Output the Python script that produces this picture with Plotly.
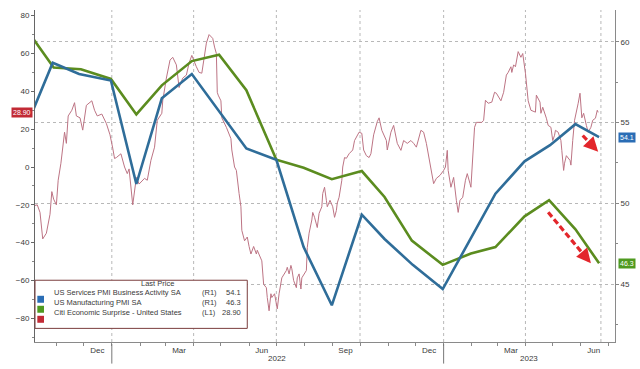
import plotly.graph_objects as go
import pandas as pd

# ---------------- data ----------------
services_dates = ["2021-09-30", "2021-10-28", "2021-11-26", "2021-12-31", "2022-01-28", "2022-02-25",
                  "2022-03-30", "2022-05-29", "2022-07-01", "2022-07-31", "2022-08-31", "2022-10-03",
                  "2022-10-28", "2022-11-28", "2022-12-31", "2023-02-27", "2023-03-31", "2023-04-28",
                  "2023-05-26", "2023-06-21"]
services_vals = [54.9, 58.7, 58.0, 57.6, 51.2, 56.5, 58.0, 53.4, 52.7, 47.3, 43.7, 49.3,
                 47.8, 46.2, 44.7, 50.6, 52.6, 53.6, 54.9, 54.1]

mfg_dates = ["2021-09-30", "2021-10-29", "2021-11-28", "2021-12-31", "2022-01-28", "2022-02-25",
             "2022-03-30", "2022-04-29", "2022-05-29", "2022-07-01", "2022-07-31", "2022-08-31",
             "2022-10-03", "2022-10-28", "2022-11-27", "2022-12-31", "2023-01-31", "2023-02-27",
             "2023-03-31", "2023-04-27", "2023-05-26", "2023-06-21"]
mfg_vals = [60.7, 58.4, 58.3, 57.7, 55.5, 57.3, 58.8, 59.2, 57.0, 52.7, 52.2, 51.5,
            52.0, 50.4, 47.7, 46.2, 46.9, 47.3, 49.2, 50.2, 48.4, 46.3]

citi_dates = [
    "2021-10-08", "2021-10-11", "2021-10-14", "2021-10-17", "2021-10-21", "2021-10-25", "2021-10-27",
    "2021-10-29", "2021-11-01", "2021-11-03", "2021-11-06", "2021-11-08", "2021-11-10", "2021-11-12",
    "2021-11-14", "2021-11-18", "2021-11-21", "2021-11-23", "2021-11-27", "2021-11-30", "2021-12-04",
    "2021-12-10", "2021-12-13", "2021-12-16", "2021-12-21", "2021-12-26", "2021-12-30", "2022-01-02",
    "2022-01-04", "2022-01-06", "2022-01-11", "2022-01-15", "2022-01-18", "2022-01-20", "2022-01-23",
    "2022-01-24", "2022-01-28", "2022-01-31", "2022-02-06", "2022-02-09", "2022-02-13", "2022-02-17",
    "2022-02-20", "2022-02-25", "2022-02-26", "2022-03-02", "2022-03-06", "2022-03-09", "2022-03-13",
    "2022-03-16", "2022-03-20", "2022-03-24", "2022-03-27", "2022-03-30", "2022-04-04", "2022-04-07",
    "2022-04-10", "2022-04-13", "2022-04-15", "2022-04-18", "2022-04-22", "2022-04-24", "2022-04-26",
    "2022-04-27", "2022-04-28", "2022-05-01", "2022-05-02", "2022-05-07", "2022-05-10", "2022-05-12",
    "2022-05-13", "2022-05-16", "2022-05-18", "2022-05-19", "2022-05-21", "2022-05-23", "2022-05-24",
    "2022-05-27", "2022-05-30", "2022-06-01", "2022-06-03", "2022-06-06", "2022-06-09", "2022-06-10",
    "2022-06-14", "2022-06-15", "2022-06-17", "2022-06-20", "2022-06-21", "2022-06-23", "2022-06-25",
    "2022-06-26", "2022-06-29", "2022-07-01", "2022-07-02", "2022-07-04", "2022-07-07", "2022-07-12",
    "2022-07-13", "2022-07-15", "2022-07-17", "2022-07-18", "2022-07-20", "2022-07-23", "2022-07-24",
    "2022-07-26", "2022-07-28", "2022-07-29", "2022-08-01", "2022-08-03", "2022-08-04", "2022-08-06",
    "2022-08-09", "2022-08-10", "2022-08-12", "2022-08-14", "2022-08-15", "2022-08-17", "2022-08-20",
    "2022-08-21", "2022-08-23", "2022-08-25", "2022-08-26", "2022-08-29", "2022-09-01", "2022-09-03",
    "2022-09-05", "2022-09-06", "2022-09-08", "2022-09-11", "2022-09-12", "2022-09-14", "2022-09-16",
    "2022-09-19", "2022-09-23", "2022-09-25", "2022-09-27", "2022-09-30", "2022-10-03", "2022-10-05",
    "2022-10-08", "2022-10-11", "2022-10-13", "2022-10-16", "2022-10-20", "2022-10-22", "2022-10-25",
    "2022-10-30", "2022-10-31", "2022-11-04", "2022-11-07", "2022-11-11", "2022-11-15", "2022-11-18",
    "2022-11-22", "2022-11-26", "2022-11-29", "2022-12-02", "2022-12-07", "2022-12-10", "2022-12-13",
    "2022-12-18", "2022-12-21", "2022-12-24", "2022-12-28", "2023-01-01", "2023-01-03", "2023-01-05",
    "2023-01-06", "2023-01-09", "2023-01-12", "2023-01-15", "2023-01-17", "2023-01-19", "2023-01-22",
    "2023-01-25", "2023-01-27", "2023-01-30", "2023-01-31", "2023-02-04", "2023-02-06", "2023-02-12",
    "2023-02-14", "2023-02-16", "2023-02-19", "2023-02-23", "2023-02-26", "2023-02-28", "2023-03-05",
    "2023-03-08", "2023-03-11", "2023-03-13", "2023-03-16", "2023-03-17", "2023-03-19", "2023-03-21",
    "2023-03-22", "2023-03-24", "2023-03-27", "2023-03-29", "2023-04-01", "2023-04-04", "2023-04-07",
    "2023-04-12", "2023-04-13", "2023-04-17", "2023-04-18", "2023-04-20", "2023-04-24", "2023-04-26",
    "2023-04-29", "2023-05-01", "2023-05-03", "2023-05-04", "2023-05-07", "2023-05-10", "2023-05-11",
    "2023-05-13", "2023-05-14", "2023-05-16", "2023-05-20", "2023-05-21", "2023-05-23", "2023-05-25",
    "2023-05-29", "2023-05-31", "2023-06-02", "2023-06-04", "2023-06-07", "2023-06-09", "2023-06-12",
    "2023-06-14", "2023-06-17", "2023-06-19", "2023-06-20"]
citi_vals = [
    -20.4, -20, -24, -38, -35, -25, -13,
    -17, -20, -7, 2, 10.5, 18.4, 12.5,
    27, 30, 34, 27, 26, 19.5, 32.6,
    35, 30, 27, 28, 23, 17, 10,
    4.5, 5, 7, 0, -3.5, -1, -18.6,
    -20, -5.5, -9, -6, -7, 3.5, 10.5,
    24.7, 28.4, 35, 47, 56.5, 58, 54,
    42, 47, 48.6, 55, 59, 53, 50,
    49.6, 60, 65.5, 70, 68, 63.4, 60,
    39.5, 38, 35, 26, 21, 17.8, 15,
    9, 0, -1.8, -7, -14, -21, -33.5,
    -39, -37, -42, -46, -42, -46, -44,
    -48, -49.6, -62, -63.8, -69, -76, -67,
    -69, -67, -74, -75, -67, -58.6, -54.7,
    -53, -56.5, -52, -53.8, -60, -63.8, -58.6,
    -56.5, -64.5, -58.6, -56.5, -54.7, -42.6, -35,
    -28, -24, -26.6, -30, -32, -24.5, -21,
    -14, -10.7, -17.6, -21, -17.6, -21, -26.6,
    -23, -19, -16, -7, 0, 5, 4.6,
    7, 9, 14, 15.7, 18.4, 17.8, 9,
    6, 5, 7, 17, 24, 26, 19.4,
    14, 9, 18.4, 22, 12.5, 8.8, 14,
    12.5, 14, 12.5, 10.5, 19.4, 18.4, 12.5,
    0, -8.8, -6, -4.4, -1.8, 0, 8.8,
    -1.8, -10.7, -5.5, -17.6, -24, -17.6, -16,
    -7, -3.5, -8.8, -10.7, 21, 23.6, 23.6,
    24.7, 35.3, 33.7, 34.3, 39.5, 39, 35,
    39.5, 48.6, 50, 53, 50, 54, 53,
    56.5, 61, 58, 60, 49.6, 35, 30,
    29, 38, 34.3, 28.4, 31.6, 25.8, 22,
    21, 14, 16.8, 19.4, 18.4, 14, 8.8,
    -1.8, 2, 6, 3.5, 1, 14, 24.7,
    33.7, 39, 26, 28.4, 22, 18.4, 21,
    24.7, 25.8, 30, 28.9]

series_names = ["US Services PMI Business Activity SA", "US Manufacturing PMI SA",
                "Citi Economic Surprise - United States"]
series_axis_tags = ["(R1)", "(R1)", "(L1)"]
last_price_text = ["54.1", "46.3", "28.90"]
last_price_vals = [54.1, 46.3, 28.90]

month_tick_dates = ["2021-12-16", "2022-03-16", "2022-06-15", "2022-09-15",
                    "2022-12-16", "2023-03-16", "2023-06-15"]
month_tick_text = ["Dec", "Mar", "Jun", "Sep", "Dec", "Mar", "Jun"]
year_label_dates = ["2022-07-02", "2023-04-05"]
year_labels = ["2022", "2023"]
year_sep_dates = ["2022-01-01", "2023-01-01"]
vgrid_dates = ["2022-01-01", "2022-04-01", "2022-07-01", "2022-10-01",
               "2023-01-01", "2023-04-01", "2023-06-23"]
left_ticks = [-80, -60, -40, -20, 0, 20, 40, 60, 80]
right_ticks = [45, 50, 55, 60]

# ---------------- styling ----------------
BLUE = "#2f6d99"
GREEN = "#5b8c1f"
PINK = "#bd7484"
SW_BLUE = "#2a6db5"
SW_GREEN = "#4f9a20"
SW_RED = "#c22a35"
ARROW_RED = "#e3262b"
FONT = "Liberation Sans, Arial, sans-serif"
TXT = "#3a3a3a"

fig = go.Figure()
fig.add_trace(go.Scatter(x=citi_dates, y=citi_vals, mode="lines", yaxis="y",
                         line=dict(color=PINK, width=1), showlegend=False,
                         name=series_names[2]))
fig.add_trace(go.Scatter(x=mfg_dates, y=mfg_vals, mode="lines", yaxis="y2",
                         line=dict(color=GREEN, width=2.6), showlegend=False,
                         name=series_names[1]))
fig.add_trace(go.Scatter(x=services_dates, y=services_vals, mode="lines", yaxis="y2",
                         line=dict(color=BLUE, width=2.6), showlegend=False,
                         name=series_names[0]))

shapes = []
annotations = []

# vertical dotted grid
for d in vgrid_dates:
    shapes.append(dict(type="line", xref="x", yref="paper", x0=d, x1=d, y0=0, y1=1,
                       line=dict(color="#b8b8b8", width=1, dash="dot"), layer="below"))
# year separators under the axis
for d in year_sep_dates:
    shapes.append(dict(type="line", xref="x", yref="paper", x0=d, x1=d, y0=-0.006, y1=-0.065,
                       line=dict(color="#777", width=1)))
for d, t in zip(year_label_dates, year_labels):
    annotations.append(dict(x=d, xref="x", y=-0.05, yref="paper", text=t, showarrow=False,
                            yanchor="middle", font=dict(size=8, color=TXT, family=FONT)))

# legend box
shapes.append(dict(type="rect", xref="paper", yref="paper", x0=0.0, x1=0.366, y0=0.041, y1=0.186,
                   line=dict(color="#7a3d3d", width=1), fillcolor="white", layer="above"))
annotations.append(dict(x=0.180, y=0.156, xref="paper", yref="paper", text="Last Price",
                        showarrow=False, font=dict(size=7.5, color=TXT, family=FONT)))
row_y = [0.1287, 0.0986, 0.0684]
sw_cols = [SW_BLUE, SW_GREEN, SW_RED]
for i in range(3):
    shapes.append(dict(type="rect", xref="paper", yref="paper", x0=0.004, x1=0.0155,
                       y0=row_y[i] - 0.0105, y1=row_y[i] + 0.0105,
                       line=dict(width=0), fillcolor=sw_cols[i], layer="above"))
    annotations.append(dict(x=0.0292, y=row_y[i], xref="paper", yref="paper", text=series_names[i],
                            xanchor="left", showarrow=False, font=dict(size=7.5, color=TXT, family=FONT)))
    annotations.append(dict(x=0.284, y=row_y[i], xref="paper", yref="paper", text=series_axis_tags[i],
                            xanchor="left", showarrow=False, font=dict(size=7.5, color=TXT, family=FONT)))
    annotations.append(dict(x=0.359, y=row_y[i], xref="paper", yref="paper", text=last_price_text[i],
                            xanchor="right", showarrow=False, font=dict(size=7.5, color=TXT, family=FONT)))

# last value tags on axes
annotations.append(dict(x=0, xref="paper", y=last_price_vals[2], yref="y", text=last_price_text[2],
                        xanchor="right", xshift=-2, showarrow=False, bgcolor=SW_RED, borderpad=1,
                        font=dict(size=7, color="white", family=FONT)))
annotations.append(dict(x=1, xref="paper", y=last_price_vals[0], yref="y2", text=last_price_text[0],
                        xanchor="left", xshift=3, showarrow=False, bgcolor=SW_BLUE, borderpad=1,
                        font=dict(size=7, color="white", family=FONT)))
annotations.append(dict(x=1, xref="paper", y=last_price_vals[1], yref="y2", text=last_price_text[1],
                        xanchor="left", xshift=3, showarrow=False, bgcolor=SW_GREEN, borderpad=1,
                        font=dict(size=7, color="white", family=FONT)))

# red dashed arrows (drawn in right-axis coordinates); last item = where the solid head part starts
arrow_specs = [("2023-06-03", 54.2, "2023-06-20", 53.2, 0.4),
               ("2023-04-26", 49.45, "2023-06-12", 46.3, 0.8)]
for sd, sv, ed, ev, f in arrow_specs:
    s, e = pd.Timestamp(sd), pd.Timestamp(ed)
    md = s + (e - s) * f
    mv = sv + (ev - sv) * f
    shapes.append(dict(type="line", xref="x", yref="y2", x0=sd, y0=sv,
                       x1=md.strftime("%Y-%m-%d %H:%M"), y1=mv,
                       line=dict(color=ARROW_RED, width=3.2, dash="6px,3px")))
    annotations.append(dict(x=ed, y=ev, xref="x", yref="y2",
                            ax=md.strftime("%Y-%m-%d %H:%M"), ay=mv, axref="x", ayref="y2",
                            showarrow=True, arrowhead=2, arrowsize=0.9, arrowwidth=3.2,
                            arrowcolor=ARROW_RED, text=""))

fig.update_layout(
    width=640, height=369,
    margin=dict(l=35, r=23, t=10, b=27),
    paper_bgcolor="white", plot_bgcolor="white",
    font=dict(family=FONT, size=8, color=TXT),
    showlegend=False,
    shapes=shapes, annotations=annotations,
    xaxis=dict(type="date", range=["2021-10-08 12:00", "2023-07-08 12:00"],
               tickvals=month_tick_dates, ticktext=month_tick_text, ticks="",
               showgrid=False, zeroline=False, showline=True, linecolor="#8a8a8a", linewidth=1,
               tickfont=dict(size=8, color=TXT),
               minor=dict(ticks="outside", dtick="M1", tick0="2021-10-01", ticklen=3,
                          tickcolor="#8a8a8a", showgrid=False)),
    yaxis=dict(range=[-92.5, 83], tickvals=left_ticks, ticks="outside", ticklen=3,
               tickcolor="#666", showgrid=False, zeroline=False, showline=True,
               linecolor="#666", linewidth=1, tickfont=dict(size=8, color=TXT),
               minor=dict(ticks="outside", dtick=10, tick0=0, ticklen=2, tickcolor="#888")),
    yaxis2=dict(range=[41.43, 61.96], overlaying="y", side="right", tickvals=right_ticks,
                ticks="outside", ticklen=3, tickcolor="#888", showgrid=True,
                gridcolor="#b8b8b8", griddash="dot", gridwidth=1, zeroline=False,
                showline=True, linecolor="#8a8a8a", linewidth=1,
                tickfont=dict(size=8, color=TXT),
                minor=dict(ticks="outside", dtick=2.5, tick0=0, ticklen=2, tickcolor="#888")),
)

fig.write_html("out.html", config={"displayModeBar": False},
               post_script="document.body.style.margin='0';document.body.style.overflow='hidden';")
